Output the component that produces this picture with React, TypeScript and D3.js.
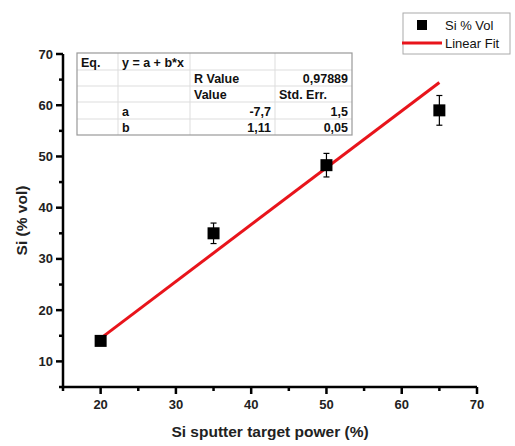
import React from "react";
import * as d3 from "d3";

const xValues = [20, 35, 50, 65];
const yValues = [14, 35, 48.3, 59];
const yErrors = [0.6, 2.0, 2.3, 2.9];
const fitA = -7.7;
const fitB = 1.11;
const xTicks = [20, 30, 40, 50, 60, 70];
const yTicks = [10, 20, 30, 40, 50, 60, 70];
const tableRows = [
  ["Eq.", "y = a + b*x", "", ""],
  ["", "", "R Value", "0,97889"],
  ["", "", "Value", "Std. Err."],
  ["", "a", "-7,7", "1,5"],
  ["", "b", "1,11", "0,05"],
];

export default function App() {
  const W = 515, H = 446;
  const x = d3.scaleLinear().domain([15, 70]).range([63, 477]);
  const y = d3.scaleLinear().domain([5, 70]).range([387, 54]);
  const font = "Liberation Sans, Arial, sans-serif";
  const minorX = d3.range(15, 71, 5).filter((v) => v % 10 !== 0);
  const minorY = d3.range(5, 71, 5).filter((v) => v % 10 !== 0);
  const line = d3.line<number>().x((d) => x(d)).y((d) => y(fitA + fitB * d));

  const colX = [77, 118, 190, 275, 352];
  const rowY = [53, 70, 86, 102, 119, 135];

  return (
    <svg width={W} height={H} style={{ position: "absolute", left: 0, top: 0, background: "#fff" }} fontFamily={font}>
      <rect width={W} height={H} fill="#fff" />
      {/* table */}
      <g>
        {rowY.slice(1, -1).map((ry, i) => (
          <line key={"r" + i} x1={colX[0]} x2={colX[4]} y1={ry} y2={ry} stroke="#ddd" strokeWidth={1} />
        ))}
        {colX.slice(1, -1).map((cx, i) => (
          <line key={"c" + i} x1={cx} x2={cx} y1={rowY[0]} y2={rowY[5]} stroke="#ddd" strokeWidth={1} />
        ))}
        <rect x={colX[0]} y={rowY[0]} width={colX[4] - colX[0]} height={rowY[5] - rowY[0]} fill="none" stroke="#999" strokeWidth={1.2} />
        {tableRows.map((row, ri) =>
          row.map((cell, ci) => {
            if (!cell) return null;
            const rightAlign = (ri >= 3 && ci >= 2) || (ri === 1 && ci === 3);
            const tx = rightAlign ? colX[ci + 1] - 4 : colX[ci] + 4;
            return (
              <text key={ri + "-" + ci} x={tx} y={rowY[ri + 1] - 3} fontSize={12.5} fontWeight="bold" textAnchor={rightAlign ? "end" : "start"} fill="#111">
                {cell}
              </text>
            );
          })
        )}
      </g>
      {/* fit line */}
      <path d={line([20, 65]) || ""} stroke="#e8141b" strokeWidth={3} fill="none" />
      {/* error bars and points */}
      {xValues.map((xv, i) => {
        const cx = x(xv), cy = y(yValues[i]);
        const t = y(yValues[i] + yErrors[i]), b = y(yValues[i] - yErrors[i]);
        return (
          <g key={i}>
            <line x1={cx} x2={cx} y1={t} y2={b} stroke="#000" strokeWidth={1.2} />
            <line x1={cx - 3} x2={cx + 3} y1={t} y2={t} stroke="#000" strokeWidth={1.2} />
            <line x1={cx - 3} x2={cx + 3} y1={b} y2={b} stroke="#000" strokeWidth={1.2} />
            <rect x={cx - 6} y={cy - 6} width={12} height={12} fill="#000" />
          </g>
        );
      })}
      {/* axes */}
      <g stroke="#000" strokeWidth={2.5}>
        <line x1={x(15)} x2={x(70)} y1={y(5)} y2={y(5)} />
        <line x1={x(15)} x2={x(15)} y1={y(5) + 1.2} y2={y(70)} />
        {xTicks.map((t) => (
          <line key={"xt" + t} x1={x(t)} x2={x(t)} y1={y(5)} y2={y(5) + 7} />
        ))}
        {minorX.map((t) => (
          <line key={"xm" + t} x1={x(t)} x2={x(t)} y1={y(5)} y2={y(5) + 4} />
        ))}
        {yTicks.map((t) => (
          <line key={"yt" + t} x1={x(15)} x2={x(15) - 7} y1={y(t)} y2={y(t)} />
        ))}
        {minorY.map((t) => (
          <line key={"ym" + t} x1={x(15)} x2={x(15) - 4} y1={y(t)} y2={y(t)} />
        ))}
      </g>
      {xTicks.map((t) => (
        <text key={"xl" + t} x={x(t)} y={y(5) + 22} fontSize={13} fontWeight="bold" textAnchor="middle" fill="#222">
          {t}
        </text>
      ))}
      {yTicks.map((t) => (
        <text key={"yl" + t} x={x(15) - 10} y={y(t) + 4.5} fontSize={13} fontWeight="bold" textAnchor="end" fill="#222">
          {t}
        </text>
      ))}
      <text x={270} y={437} fontSize={15.5} fontWeight="bold" textAnchor="middle" fill="#222">
        Si sputter target power (%)
      </text>
      <text transform={`translate(27,${y(37.5)}) rotate(-90)`} fontSize={15.5} fontWeight="bold" textAnchor="middle" fill="#222">
        Si (% vol)
      </text>
      {/* legend */}
      <rect x={403} y={13} width={107} height={41} fill="#fff" stroke="#aaa" strokeWidth={1} />
      <rect x={417} y={20} width={10} height={10} fill="#000" />
      <text x={445} y={30} fontSize={13} fill="#111">Si % Vol</text>
      <line x1={402} x2={442} y1={43} y2={43} stroke="#e8141b" strokeWidth={3} />
      <text x={445} y={48} fontSize={13} fill="#111">Linear Fit</text>
    </svg>
  );
}
